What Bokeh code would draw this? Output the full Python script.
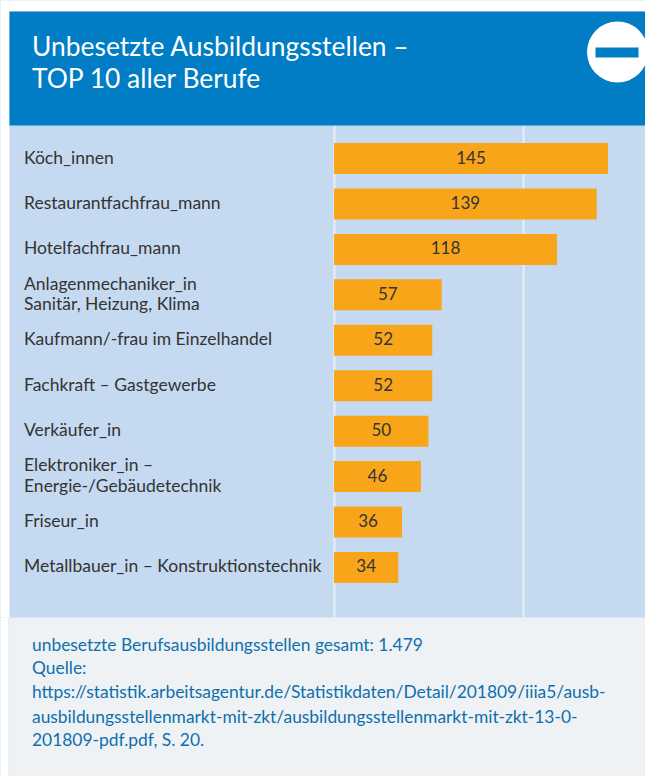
from bokeh.plotting import figure
from bokeh.embed import file_html
from bokeh.resources import INLINE
from bokeh.models import Range1d, BoxAnnotation, Label, FixedTicker, ColumnDataSource
from bokeh.core.properties import value

categories = ["Köch_innen", "Restaurantfachfrau_mann", "Hotelfachfrau_mann",
              "Anlagenmechaniker_in\nSanitär, Heizung, Klima", "Kaufmann/-frau im Einzelhandel",
              "Fachkraft – Gastgewerbe", "Verkäufer_in", "Elektroniker_in –\nEnergie-/Gebäudetechnik",
              "Friseur_in", "Metallbauer_in – Konstruktionstechnik"]
values = [145, 139, 118, 57, 52, 52, 50, 46, 36, 34]
positions = list(range(10))
title_lines = ["Unbesetzte Ausbildungsstellen –", "TOP 10 aller Berufe"]
footer_lines = ["unbesetzte Berufsausbildungsstellen gesamt: 1.479", "Quelle:",
                "https://statistik.arbeitsagentur.de/Statistikdaten/Detail/201809/iiia5/ausb-",
                "ausbildungsstellenmarkt-mit-zkt/ausbildungsstellenmarkt-mit-zkt-13-0-",
                "201809-pdf.pdf, S. 20."]

FONT = "Lato"
X0, XS = 333.5, 1.89      # page px of value 0, px per unit
Y0, YS = 158.0, 45.44     # page px of first row, px per row
fx = lambda px: (px - X0) / XS
fy = lambda py: (py - Y0) / YS

p = figure(width=645, height=776, output_backend="svg", toolbar_location=None,
           x_range=Range1d(fx(0), fx(645)), y_range=Range1d(fy(776), fy(0)),
           min_border=0, outline_line_color=None, background_fill_color="#c5daf0",
           border_fill_color="white")
p.yaxis.visible = False
p.xaxis.visible = False
p.ygrid.visible = False
p.xgrid.ticker = FixedTicker(ticks=[0, 100])
p.xgrid.grid_line_color = "#e6eff8"
p.xgrid.grid_line_width = 2

src = ColumnDataSource(dict(cat=categories, val=values, pos=positions, mid=[v / 2 for v in values],
                            txt=[str(v) for v in values]))
p.hbar(y="pos", left=0, right="val", height=31 / YS, source=src, color="#f9a51a", line_color=None)
p.text(x=0, y="pos", text="cat", source=src, x_offset=-310, y_offset=-1.5, text_align="left",
       text_baseline="middle", text_font=value(FONT), text_font_size="17.5px", text_color="#333333",
       text_line_height=0.98)
p.text(x="mid", y="pos", text="txt", source=src, y_offset=-1.5, text_align="center", text_baseline="middle",
       text_font=value(FONT), text_font_size="17px", text_color="#333333")

def box(l, r, t, b, color, level="annotation"):
    p.add_layout(BoxAnnotation(left=fx(l), right=fx(r), top=fy(t), bottom=fy(b), fill_color=color,
                               fill_alpha=1, line_color=None, level=level))

box(0, 9, 0, 617, "white")
box(9, 645, 0, 11, "white")
box(9, 645, 11, 125, "#007dc5")
box(0, 8, 617, 776, "white")
box(8, 645, 617, 776, "#eef2f4")

c = p.scatter([fx(617)], [fy(51.5)], size=61, color="white", line_color=None)
c.level = "overlay"
box(595, 638, 47, 57, "#007dc5", "overlay")

def lab(px, py, s, size, color):
    p.add_layout(Label(x=fx(px), y=fy(py), text=s, text_font=FONT, text_font_size=size, text_color=color,
                       text_align="left", text_baseline="middle", level="overlay"))

for py, s in zip([45.5, 77], title_lines):
    lab(31.5, py, s, "26.4px", "white")
for py, s in zip([643.5, 667, 691, 715.5, 739], footer_lines):
    lab(31.5, py, s, "17.4px", "#0f6fae")

open("out.html", "w").write(file_html(p, INLINE))
